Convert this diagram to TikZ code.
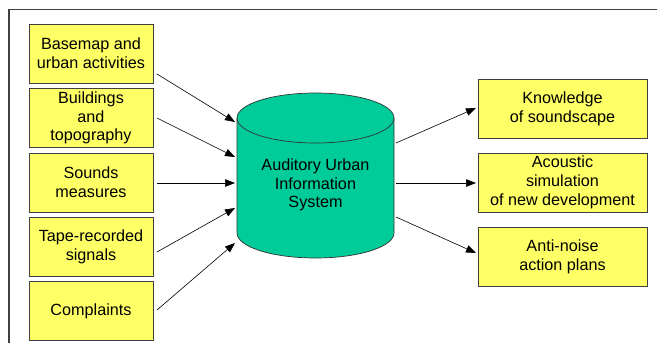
\documentclass[tikz,border=0pt]{standalone}
\usepackage{fontspec}
\setmainfont{Liberation Sans}
\usetikzlibrary{arrows.meta}
\definecolor{boxyellow}{HTML}{FFFF66}
\definecolor{systeal}{HTML}{00CC99}
\definecolor{framegray}{HTML}{404040}
\tikzset{
  labelfont/.style={font=\fontsize{16.2pt}{18.8pt}\selectfont},
  box/.style={draw=black!75, line width=0.9pt, fill=boxyellow, minimum width=124pt,
    minimum height=59pt, align=center, inner sep=0pt, labelfont},
  outbox/.style={box, minimum width=169pt},
  arr/.style={line width=0.6pt, -{Triangle[length=10pt,width=7.5pt]}}
}
\begin{document}
\begin{tikzpicture}[x=1pt,y=-1pt]
\useasboundingbox (0,0) rectangle (657,343);
% outer frame
\draw[framegray, line width=1.2pt] (9,343) -- (9,9.5) -- (657,9.5);

% input boxes
\node[box] (in1) at (91,53.5) {Basemap and\\urban activities};
\node[box] (in2) at (91,118) {Buildings\\and\\topography};
\node[box] (in3) at (91,182.5) {Sounds\\measures};
\node[box] (in4) at (91,247) {Tape-recorded\\signals};
\node[box] (in5) at (91,311) {Complaints};

% output boxes
\node[outbox] (out1) at (562.5,108.5) {Knowledge\\of soundscape};
\node[outbox] (out2) at (562.5,182.5) {Acoustic\\simulation\\of new development};
\node[outbox] (out3) at (562.5,257) {Anti-noise\\action plans};

% the database cylinder
\fill[systeal] (237,118) -- (237,233) arc[start angle=180,end angle=360,x radius=78.5pt,y radius=25pt]
  -- (394,118) arc[start angle=0,end angle=180,x radius=78.5pt,y radius=25pt] -- cycle;
\draw[black!80, line width=0.7pt] (237,118) -- (237,233) arc[start angle=180,end angle=360,x radius=78.5pt,y radius=25pt] -- (394,118);
\draw[black!80, line width=0.7pt] (315.5,118) ellipse[x radius=78.5pt, y radius=25pt];
\node[align=center, labelfont] (sys) at (315.5,185)
  {Auditory Urban\\Information\\System};

% arrow end points on the cylinder wall
\coordinate (s1) at (157,74);  \coordinate (e1) at (235,122);
\coordinate (s2) at (157,118); \coordinate (e2) at (235,157);
\coordinate (s3) at (157,183); \coordinate (e3) at (235,183);
\coordinate (s4) at (157,252); \coordinate (e4) at (235,208);
\coordinate (s5) at (157,310); \coordinate (e5) at (235,243);
\coordinate (r1) at (396,143); \coordinate (t1) at (476,108);
\coordinate (r2) at (396,183); \coordinate (t2) at (476,183);
\coordinate (r3) at (396,217); \coordinate (t3) at (476,253);

\draw[arr] (s1) -- (e1);
\draw[arr] (s2) -- (e2);
\draw[arr] (s3) -- (e3);
\draw[arr] (s4) -- (e4);
\draw[arr] (s5) -- (e5);
\draw[arr] (r1) -- (t1);
\draw[arr] (r2) -- (t2);
\draw[arr] (r3) -- (t3);
\end{tikzpicture}
\end{document}
